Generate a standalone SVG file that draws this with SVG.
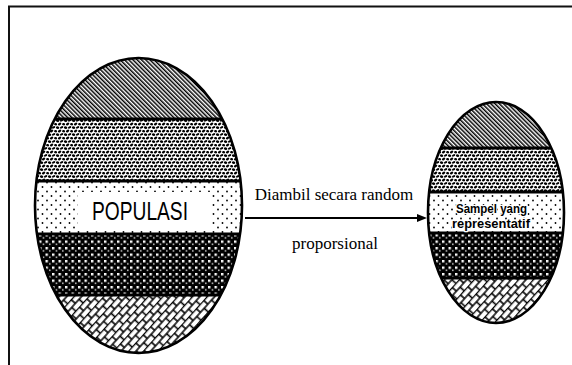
<svg xmlns="http://www.w3.org/2000/svg" width="572" height="365" viewBox="0 0 572 365">
<style>
.outline{fill:none;stroke:#000;stroke-width:2.6}
.sep{stroke:#000;stroke-width:3}
.lbl{font-family:"Liberation Serif","Times New Roman",serif;font-size:17px;fill:#000;text-anchor:middle}
.big{font-family:"Liberation Sans",Arial,sans-serif;font-size:25px;fill:#000}
.small{font-family:"Liberation Sans",Arial,sans-serif;font-size:12.5px;font-weight:bold;fill:#000;stroke:#fff;stroke-width:2.5;paint-order:stroke;stroke-linejoin:round}
</style>
<defs>
<pattern id="hatch" width="3" height="3" patternUnits="userSpaceOnUse" patternTransform="rotate(-45)">
<rect width="3" height="3" fill="#fff"/><rect width="1.5" height="3" fill="#000"/>
</pattern>
<pattern id="pebble" width="8" height="7" patternUnits="userSpaceOnUse">
<rect width="8" height="7" fill="#fff"/>
<g fill="#000">
<ellipse cx="1.6" cy="1.6" rx="1.7" ry="1.3" transform="rotate(25 1.6 1.6)"/>
<ellipse cx="5.6" cy="1.4" rx="1.8" ry="1.1" transform="rotate(-30 5.6 1.4)"/>
<ellipse cx="3.6" cy="5" rx="1.8" ry="1.2" transform="rotate(-35 3.6 5)"/>
<ellipse cx="7.6" cy="5.2" rx="1.5" ry="1.2" transform="rotate(20 7.6 5.2)"/>
<ellipse cx="-0.4" cy="5.2" rx="1.5" ry="1.2" transform="rotate(20 -0.4 5.2)"/>
</g>
</pattern>
<pattern id="dots" width="9" height="9" patternUnits="userSpaceOnUse">
<rect width="9" height="9" fill="#fff"/>
<circle cx="2" cy="2.5" r="0.9" fill="#000"/>
<circle cx="6.5" cy="7" r="0.9" fill="#000"/>
</pattern>
<pattern id="balls" width="6.5" height="6.5" patternUnits="userSpaceOnUse">
<rect width="6.5" height="6.5" fill="#000"/>
<rect x="0" y="0" width="2.4" height="2.4" fill="#fff"/>
<circle cx="4.4" cy="3.8" r="0.8" fill="#fff"/>
</pattern>
<pattern id="brick" width="11" height="11" patternUnits="userSpaceOnUse" patternTransform="rotate(-48)">
<rect width="11" height="11" fill="#fff"/>
<path d="M0,0.5H11M0,6H11M1,0.5V6M6.5,6V11" stroke="#000" stroke-width="1.6" fill="none"/>
</pattern>
<clipPath id="cBig"><ellipse cx="138.5" cy="205.5" rx="103.5" ry="147.5"/></clipPath>
<clipPath id="cSmall"><ellipse cx="496" cy="212.5" rx="68" ry="110.5"/></clipPath>
<marker id="arr" viewBox="0 0 10 8" refX="3" refY="4" markerWidth="10" markerHeight="8" markerUnits="userSpaceOnUse" orient="auto">
<path d="M0,0 L10,4 L0,8 z" fill="#000"/>
</marker>
</defs>
<rect width="572" height="365" fill="#fff"/>
<path d="M9,365 V6.5 H572" fill="none" stroke="#111" stroke-width="2"/>

<g id="populasi">
<g clip-path="url(#cBig)">
<rect x="30" y="55" width="220" height="64" fill="url(#hatch)"/>
<rect x="30" y="119" width="220" height="62" fill="url(#pebble)"/>
<rect x="30" y="181" width="220" height="53" fill="url(#dots)"/>
<rect x="30" y="234" width="220" height="61" fill="url(#balls)"/>
<rect x="30" y="295" width="220" height="62" fill="url(#brick)"/>
<line class="sep" x1="30" y1="119" x2="250" y2="119"/>
<line class="sep" x1="30" y1="181" x2="250" y2="181"/>
<line class="sep" x1="30" y1="234" x2="250" y2="234"/>
<line class="sep" x1="30" y1="295" x2="250" y2="295"/>
</g>
<rect x="78" y="192" width="134" height="39" fill="#fff"/>
<ellipse class="outline" cx="138.5" cy="205.5" rx="103.5" ry="147.5"/>
<text class="big" x="92" y="220" textLength="96" lengthAdjust="spacingAndGlyphs">POPULASI</text>
</g>

<g id="sampel">
<g clip-path="url(#cSmall)">
<rect x="425" y="100" width="145" height="48" fill="url(#hatch)"/>
<rect x="425" y="148" width="145" height="44" fill="url(#pebble)"/>
<rect x="425" y="192" width="145" height="41" fill="url(#dots)"/>
<rect x="425" y="233" width="145" height="45" fill="url(#balls)"/>
<rect x="425" y="278" width="145" height="47" fill="url(#brick)"/>
<line class="sep" x1="425" y1="148" x2="570" y2="148"/>
<line class="sep" x1="425" y1="192" x2="570" y2="192"/>
<line class="sep" x1="425" y1="233" x2="570" y2="233"/>
<line class="sep" x1="425" y1="278" x2="570" y2="278"/>
</g>
<ellipse class="outline" cx="496" cy="212.5" rx="68" ry="110.5"/>
<text class="small" x="456" y="213" textLength="71" lengthAdjust="spacingAndGlyphs">Sampel yang</text>
<text class="small" x="452" y="228" textLength="78" lengthAdjust="spacingAndGlyphs">representatif</text>
</g>

<g id="connectors">
<line x1="245" y1="218" x2="420" y2="218" stroke="#000" stroke-width="2" marker-end="url(#arr)"/>
<text class="lbl" x="334" y="200">Diambil secara random</text>
<text class="lbl" x="335" y="249">proporsional</text>
</g>
</svg>
